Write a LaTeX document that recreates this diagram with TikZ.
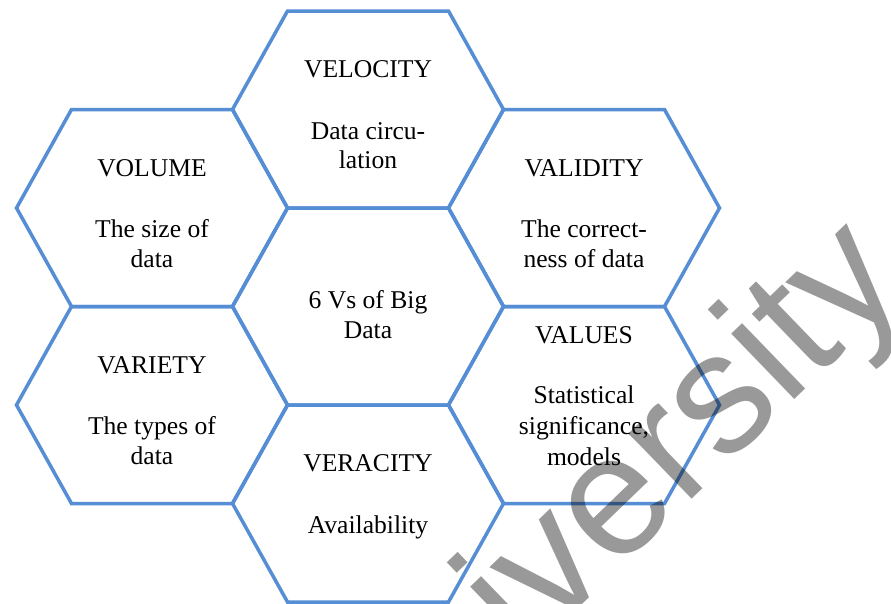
\documentclass[tikz,border=0pt]{standalone}
\usepackage{fontspec}
\setmainfont{Liberation Serif}
\newfontfamily\wmfont{Liberation Sans}
\definecolor{hexblue}{HTML}{558ED5}
\begin{document}
\begin{tikzpicture}[x=1pt,y=-1pt,
  hexline/.style={draw=hexblue,line width=3.5pt,line join=miter},
  lbl/.style={anchor=base,inner sep=0pt,font=\fontsize{25.6}{30}\selectfont},
  wm/.style={anchor=base west,inner sep=0pt,rotate=44,font=\wmfont\fontsize{172}{172}\selectfont,text=black,text opacity=0.4},
  hexa/.pic={\path[hexline] (-135.5,0) -- (-80.5,-98.5) -- (80.5,-98.5) -- (135.5,0) -- (80.5,98.5) -- (-80.5,98.5) -- cycle;}]
\useasboundingbox (0,0) rectangle (891,603);
\fill[white] (0,0) rectangle (891,603);
% hexagons
\pic at (368,109.5) {hexa};
\pic at (152,208) {hexa};
\pic at (584,208) {hexa};
\pic at (368,306.5) {hexa};
\pic at (152,405) {hexa};
\pic at (584,405) {hexa};
\pic at (368,503.5) {hexa};
% VELOCITY
\node[lbl] (velT) at (368,77.5) {VELOCITY};
\node[lbl] (vel1) at (368,139.5) {Data circu-};
\node[lbl] (vel2) at (368,168.5) {lation};
% VOLUME
\node[lbl] (volT) at (152,176) {VOLUME};
\node[lbl] (vol1) at (152,237) {The size of};
\node[lbl] (vol2) at (152,267) {data};
% VALIDITY
\node[lbl] (valT) at (584,176) {VALIDITY};
\node[lbl] (val1) at (584,237) {The correct-};
\node[lbl] (val2) at (584,267) {ness of data};
% center
\node[lbl] (cen1) at (368,308.5) {6 Vs of Big};
\node[lbl] (cen2) at (368,338.5) {Data};
% VARIETY
\node[lbl] (varT) at (152,373) {VARIETY};
\node[lbl] (var1) at (152,434) {The types of};
\node[lbl] (var2) at (152,464) {data};
% VALUES
\node[lbl] (vluT) at (584,343.5) {VALUES};
\node[lbl] (vlu1) at (584,403.5) {Statistical};
\node[lbl] (vlu2) at (584,434) {significance,};
\node[lbl] (vlu3) at (584,465) {models};
% VERACITY
\node[lbl] (verT) at (368,471.5) {VERACITY};
\node[lbl] (ver1) at (368,533) {Availability};
% watermark
\begin{scope}
\clip (0,0) rectangle (891,603);
\node[wm] (wmark) at (367,813) {University};
\end{scope}
\end{tikzpicture}
\end{document}
